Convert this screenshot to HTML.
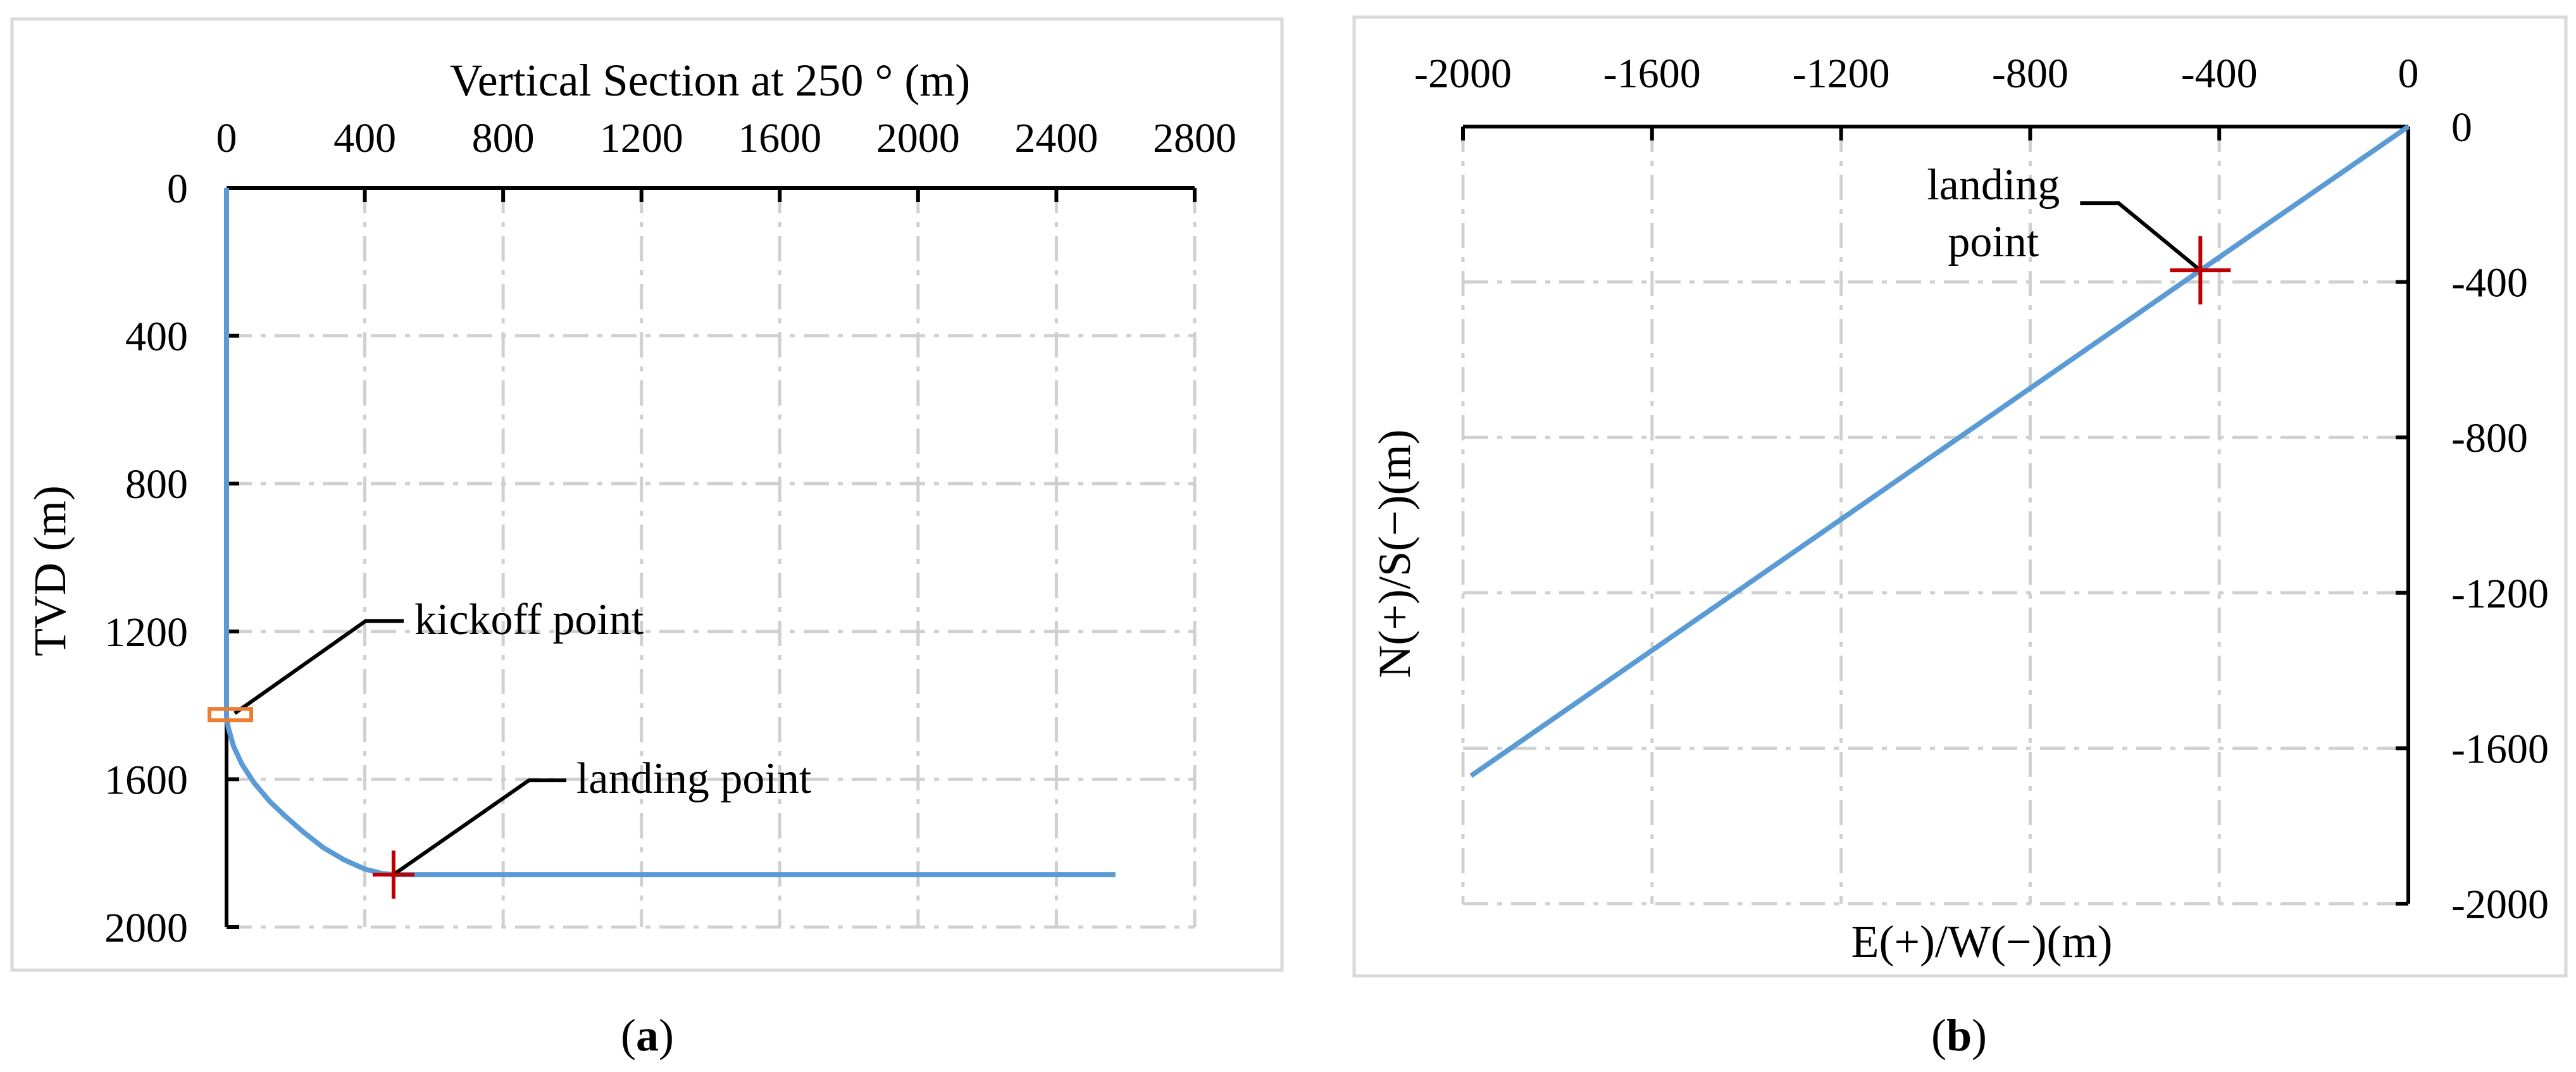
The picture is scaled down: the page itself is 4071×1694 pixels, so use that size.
<!DOCTYPE html>
<html><head><meta charset="utf-8"><style>
html,body{margin:0;padding:0;background:#fff;}
svg, svg text, svg tspan{font-family:"Liberation Serif","Times New Roman",Times,"DejaVu Serif","Noto Serif CJK SC",serif !important;}
</style></head><body>
<svg id="svg" width="4071" height="1689" viewBox="0 0 4071 1689" xmlns="http://www.w3.org/2000/svg">
<rect x="19" y="30" width="2007" height="1503" fill="none" stroke="#d9d9d9" stroke-width="5"/>
<rect x="2140" y="27" width="1915" height="1515" fill="none" stroke="#d9d9d9" stroke-width="5"/>
<g id="ga"></g>
<g id="gb"></g>
<text x="1023" y="1660" font-size="72" text-anchor="middle">(<tspan font-weight="bold">a</tspan>)</text>
<text x="3096" y="1660" font-size="72" text-anchor="middle">(<tspan font-weight="bold">b</tspan>)</text>
</svg>
<script>
// Panel a data
const aXTicks = [0, 400, 800, 1200, 1600, 2000, 2400, 2800];
const aYTicks = [0, 400, 800, 1200, 1600, 2000];
const aVS = [0, 0, 5, 20, 45, 80, 125, 170, 225, 280, 340, 400, 450, 483, 2571];
const aTVD = [0, 1430, 1460, 1510, 1560, 1610, 1660, 1700, 1745, 1785, 1818, 1843, 1855, 1858, 1858];
const aKickoff = [0, 1425];
const aLanding = [483, 1858];
// Panel b data
const bXTicks = [-2000, -1600, -1200, -800, -400, 0];
const bYTicks = [0, -400, -800, -1200, -1600, -2000];
const bEW = [0, -440, -1983];
const bNS = [0, -370, -1671];
const bLanding = [-440, -370];

const NS = 'http://www.w3.org/2000/svg';
const FF = '"Liberation Serif","Times New Roman",Times,"DejaVu Serif",serif';
function mk(parent, tag, attrs, txt) {
  const e = document.createElementNS(NS, tag);
  for (const k in attrs) e.setAttribute(k, attrs[k]);
  if (txt !== undefined) { e.textContent = txt; e.style.fontFamily = FF; }
  parent.appendChild(e);
  return e;
}
const GRID = {stroke: '#d0d0d0', 'stroke-width': 5, 'stroke-dasharray': '40 14 8 14', fill: 'none'};

// ---------- Panel A ----------
const ga = document.getElementById('ga');
const axL = 358, axR = 1888, ayT = 297, ayB = 1465;
const ax = v => axL + (v - 0) / 2800 * (axR - axL);
const ay = v => ayT + (v - 0) / 2000 * (ayB - ayT);
aXTicks.forEach(t => {
  if (t > 0) {
    const g = mk(ga, 'line', Object.assign({x1: ax(t), y1: ayT, x2: ax(t), y2: ayB}, GRID));
    
    
    const tk = mk(ga, 'line', {x1: ax(t), y1: ayT, x2: ax(t), y2: ayT + 22, stroke: '#000', 'stroke-width': 6});
    
    
  }
  const lb = mk(ga, 'text', {x: ax(t), y: 240, 'font-size': 66, 'text-anchor': 'middle'}, String(t));
  
  
});
aYTicks.forEach(t => {
  if (t > 0) {
    const g = mk(ga, 'line', Object.assign({x1: axL, y1: ay(t), x2: axR, y2: ay(t)}, GRID));
    
    
    const tk = mk(ga, 'line', {x1: axL, y1: ay(t), x2: axL + 20, y2: ay(t), stroke: '#000', 'stroke-width': 6});
    
    
  }
  const lb = mk(ga, 'text', {x: 297, y: ay(t) + 23, 'font-size': 66, 'text-anchor': 'end'}, String(t));
  
  
});
let e;
e = mk(ga, 'line', {x1: axL, y1: ayT, x2: axR, y2: ayT, stroke: '#000', 'stroke-width': 6});


e = mk(ga, 'line', {x1: axL, y1: ayT, x2: axL, y2: ayB, stroke: '#000', 'stroke-width': 6});


e = mk(ga, 'polyline', {points: aVS.map((v, i) => ax(v) + ',' + ay(aTVD[i])).join(' '), fill: 'none', stroke: '#5b9bd5', 'stroke-width': 8, 'stroke-linejoin': 'round'});


e = mk(ga, 'text', {x: 1122, y: 151, 'font-size': 72, 'text-anchor': 'middle'}, 'Vertical Section at 250 ° (m)');


e = mk(ga, 'text', {x: 0, y: 0, 'font-size': 72, 'text-anchor': 'middle', transform: 'translate(103,902) rotate(-90)'}, 'TVD (m)');


const kx = ax(aKickoff[0]), ky = ay(aKickoff[1]);
e = mk(ga, 'polyline', {points: `${kx + 13},${ky - 2} ${kx + 220},${ky - 148} ${kx + 280},${ky - 148}`, fill: 'none', stroke: '#000', 'stroke-width': 6});


e = mk(ga, 'rect', {x: kx - 27, y: ky - 9, width: 66, height: 18, fill: 'none', stroke: '#ed7d31', 'stroke-width': 6});


e = mk(ga, 'text', {x: kx + 297, y: ky - 127, 'font-size': 70}, 'kickoff point');


const lx = ax(aLanding[0]), ly = ay(aLanding[1]);
e = mk(ga, 'polyline', {points: `${lx},${ly} ${lx + 214},${ly - 149} ${lx + 273},${ly - 149}`, fill: 'none', stroke: '#000', 'stroke-width': 6});


e = mk(ga, 'path', {d: `M${lx - 33},${ly}H${lx + 33}M${lx},${ly - 38}V${ly + 38}`, stroke: '#c00000', 'stroke-width': 6});


e = mk(ga, 'text', {x: lx + 289, y: ly - 129, 'font-size': 70}, 'landing point');



// ---------- Panel B ----------
const gb = document.getElementById('gb');
const bxL = 2312, bxR = 3806, byT = 200, byB = 1428;
const bx = v => bxL + (v + 2000) / 2000 * (bxR - bxL);
const by = v => byT + (0 - v) / 2000 * (byB - byT);
bXTicks.forEach(t => {
  if (t < 0) {
    const g = mk(gb, 'line', Object.assign({x1: bx(t), y1: byT, x2: bx(t), y2: byB}, GRID));
    
    
    const tk = mk(gb, 'line', {x1: bx(t), y1: byT, x2: bx(t), y2: byT + 22, stroke: '#000', 'stroke-width': 6});
    
    
  }
  const lb = mk(gb, 'text', {x: bx(t), y: 138, 'font-size': 66, 'text-anchor': 'middle'}, String(t));
  
  
});
bYTicks.forEach(t => {
  if (t < 0) {
    const g = mk(gb, 'line', Object.assign({x1: bxL, y1: by(t), x2: bxR, y2: by(t)}, GRID));
    
    
    const tk = mk(gb, 'line', {x1: bxR - 20, y1: by(t), x2: bxR, y2: by(t), stroke: '#000', 'stroke-width': 6});
    
    
  }
  const lb = mk(gb, 'text', {x: 3874, y: by(t) + 23, 'font-size': 66, 'text-anchor': 'start'}, String(t));
  
  
});
e = mk(gb, 'line', {x1: bxL, y1: byT, x2: bxR, y2: byT, stroke: '#000', 'stroke-width': 6});


e = mk(gb, 'line', {x1: bxR, y1: byT, x2: bxR, y2: byB, stroke: '#000', 'stroke-width': 6});


e = mk(gb, 'polyline', {points: bEW.map((v, i) => bx(v) + ',' + by(bNS[i])).join(' '), fill: 'none', stroke: '#5b9bd5', 'stroke-width': 8});


e = mk(gb, 'text', {x: 3132, y: 1512, 'font-size': 72, 'text-anchor': 'middle'}, 'E(+)/W(−)(m)');


e = mk(gb, 'text', {x: 0, y: 0, 'font-size': 72, 'text-anchor': 'middle', transform: 'translate(2228,875) rotate(-90)'}, 'N(+)/S(−)(m)');


const mx = bx(bLanding[0]), my = by(bLanding[1]);
e = mk(gb, 'polyline', {points: `${mx},${my} ${mx - 129},${my - 106} ${mx - 190},${my - 106}`, fill: 'none', stroke: '#000', 'stroke-width': 6});


e = mk(gb, 'path', {d: `M${mx - 48},${my}H${mx + 48}M${mx},${my - 54}V${my + 54}`, stroke: '#c00000', 'stroke-width': 6});


e = mk(gb, 'text', {x: mx - 327, y: my - 112, 'font-size': 70, 'text-anchor': 'middle'}, 'landing');


e = mk(gb, 'text', {x: mx - 327, y: my - 22, 'font-size': 70, 'text-anchor': 'middle'}, 'point');


</script>
</body></html>
